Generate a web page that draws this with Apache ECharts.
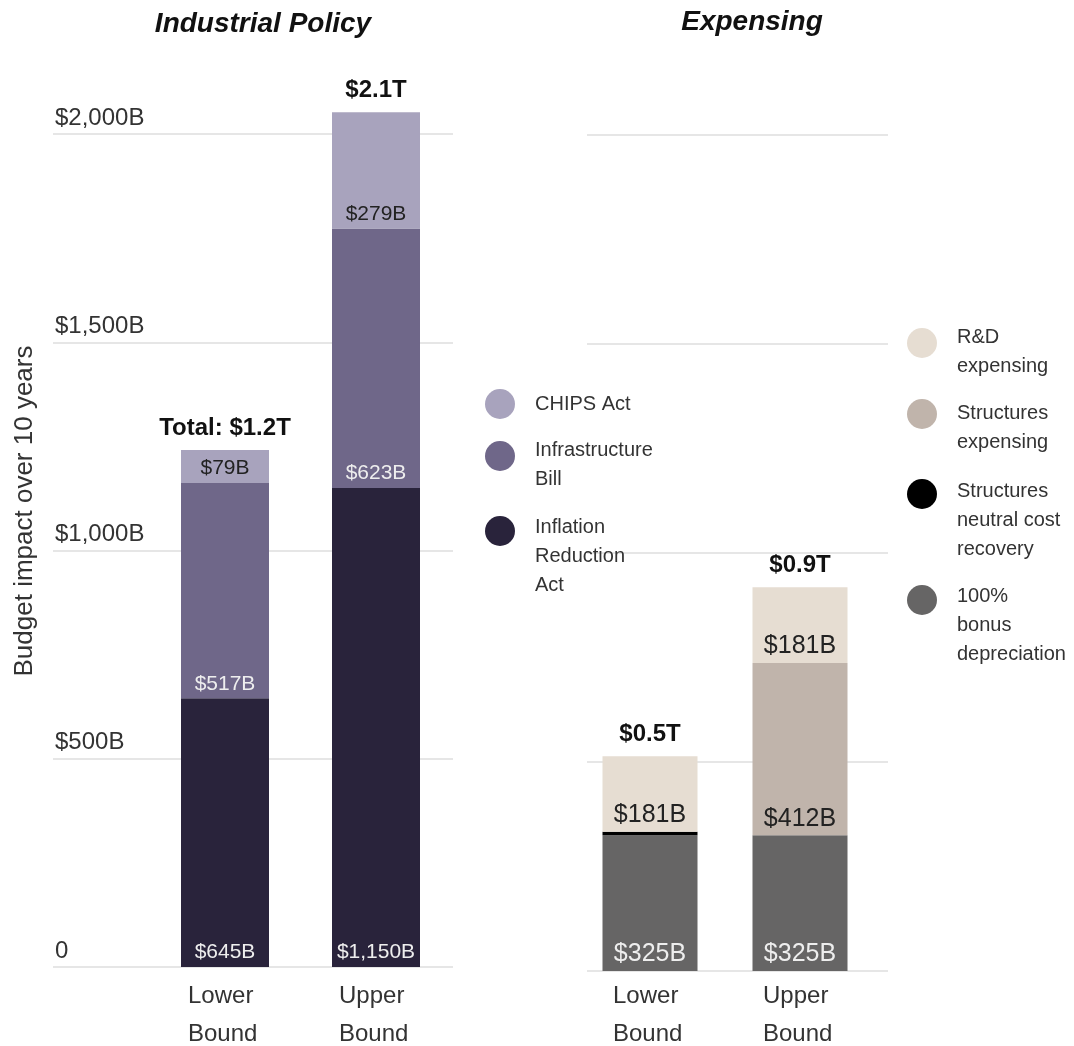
<!DOCTYPE html>
<html>
<head>
<meta charset="utf-8">
<script src="https://cdn.jsdelivr.net/npm/echarts@6/dist/echarts.min.js"></script>
<style>
html,body{margin:0;padding:0;background:#fff;}
#chart{width:1074px;height:1046px;}
</style>
</head>
<body>
<div id="chart"></div>
<script>
// ---- data ----
const categories = ['Lower\nBound', 'Upper\nBound'];
const yTicks = [0, 500, 1000, 1500, 2000];
const yTickLabels = ['0', '$500B', '$1,000B', '$1,500B', '$2,000B'];

// Industrial Policy (billions)
const ira = [645, 1150];
const infra = [517, 623];
const chips = [79, 279];

// Expensing (billions)
const bonusDep = [325, 325];
const neutralCost = [8, null];
const structures = [null, 412];
const rdExp = [181, 181];

const FONT = '"Liberation Sans", Arial, sans-serif';

function fmtB(v) {
  return '$' + Number(v).toLocaleString('en-US') + 'B';
}
function sumArr(arrs, i) {
  return arrs.reduce((s, a) => s + (a[i] || 0), 0);
}
const leftTotals = categories.map((c, i) => sumArr([ira, infra, chips], i));
const rightTotals = categories.map((c, i) => sumArr([bonusDep, neutralCost, structures, rdExp], i));

const chart = echarts.init(document.getElementById('chart'), null, {renderer: 'canvas'});

function segLabel(color, size) {
  return {
    show: true, position: 'insideBottom', distance: 4,
    color: color, fontSize: size, fontFamily: FONT,
    formatter: p => fmtB(p.value)
  };
}
function legendItem(name, text, left, top, blank) {
  return {
    data: [name], left: left, top: top, orient: 'vertical', padding: 0,
    icon: 'circle', itemWidth: 60, itemHeight: 30, selectedMode: false,
    formatter: () => (blank ? '{s| }\n' : '') + text,
    textStyle: {fontSize: 20, lineHeight: 29, color: '#333', fontFamily: FONT,
      rich: {s: {fontSize: 2, lineHeight: blank || 29}}}
  };
}
function catLabel(margin) {
  return {
    margin: margin, color: '#333', fontFamily: FONT, fontSize: 24, lineHeight: 38,
    formatter: v => v.split('\n').map(s => '{a|' + s + '}').join('\n'),
    rich: {a: {width: 74, align: 'left', fontSize: 24, lineHeight: 38, color: '#333', fontFamily: FONT}}
  };
}

const option = {
  animation: false,
  grid: [
    {left: 53, right: 621, top: 134, bottom: 79, outerBoundsMode: 'none'},
    {left: 149.5, right: 622.5, top: 50.7, bottom: 79, outerBoundsMode: 'none'},
    {left: 587, right: 186, top: 135, bottom: 75, outerBoundsMode: 'none'},
    {left: 575, right: 199, top: 51.4, bottom: 75, outerBoundsMode: 'none'}
  ],
  xAxis: [
    {gridIndex: 0, type: 'value', show: false, min: 0, max: 1},
    {gridIndex: 1, type: 'category', data: categories,
      axisLine: {show: false}, axisTick: {show: false}, axisLabel: catLabel(10)},
    {gridIndex: 2, type: 'value', show: false, min: 0, max: 1},
    {gridIndex: 3, type: 'category', data: categories,
      axisLine: {show: false}, axisTick: {show: false}, axisLabel: catLabel(6)}
  ],
  yAxis: [
    {gridIndex: 0, type: 'value', min: 0, max: 2000, interval: 500,
      axisLine: {show: false}, axisTick: {show: false},
      splitLine: {show: true, lineStyle: {color: '#e6e6e6', width: 2}},
      axisLabel: {inside: true, margin: 2, verticalAlign: 'bottom', padding: [0, 0, 4, 0],
        fontSize: 24, color: '#333', fontFamily: FONT,
        formatter: v => yTickLabels[yTicks.indexOf(v)]}},
    {gridIndex: 1, type: 'value', min: 0, max: 2200, show: false, splitLine: {show: false}},
    {gridIndex: 2, type: 'value', min: 0, max: 2000, interval: 500,
      axisLine: {show: false}, axisTick: {show: false}, axisLabel: {show: false},
      splitLine: {show: true, lineStyle: {color: '#e6e6e6', width: 2}}},
    {gridIndex: 3, type: 'value', min: 0, max: 2200, show: false, splitLine: {show: false}}
  ],
  legend: [
    legendItem('CHIPS Act', 'CHIPS Act', 485, 389, 0),
    legendItem('Infrastructure Bill', 'Infrastructure\nBill', 485, 418, 18),
    legendItem('Inflation Reduction Act', 'Inflation\nReduction\nAct', 485, 462.5, 50),
    legendItem('R&D expensing', 'R&D\nexpensing', 907, 305, 18),
    legendItem('Structures expensing', 'Structures\nexpensing', 907, 371, 28),
    legendItem('Structures neutral cost recovery', 'Structures\nneutral cost\nrecovery', 907, 424.5, 52),
    legendItem('100% bonus depreciation', '100%\nbonus\ndepreciation', 907, 531.5, 50)
  ],
  title: [
    {text: 'Industrial Policy', left: 258, top: 5, textAlign: 'center',
      textStyle: {fontSize: 28, fontWeight: 'bold', fontStyle: 'italic', color: '#111', fontFamily: FONT}},
    {text: 'Expensing', left: 747, top: 3, textAlign: 'center',
      textStyle: {fontSize: 28, fontWeight: 'bold', fontStyle: 'italic', color: '#111', fontFamily: FONT}}
  ],
  graphic: [
    {type: 'text', x: 25, y: 511, rotation: Math.PI / 2, silent: true,
      style: {text: 'Budget impact over 10 years', fontSize: 26, fill: '#333', fontFamily: FONT,
        textAlign: 'center', textVerticalAlign: 'middle'}}
  ],
  series: [
    {name: 'Inflation Reduction Act', type: 'bar', xAxisIndex: 1, yAxisIndex: 1, stack: 'ip',
      barWidth: 88, barGap: '-100%', data: ira, itemStyle: {color: '#29233b'},
      label: segLabel('#eeeeee', 21)},
    {name: 'Infrastructure Bill', type: 'bar', xAxisIndex: 1, yAxisIndex: 1, stack: 'ip',
      barWidth: 88, barGap: '-100%', data: infra, itemStyle: {color: '#6f6789'},
      label: segLabel('#eeeeee', 21)},
    {name: 'CHIPS Act', type: 'bar', xAxisIndex: 1, yAxisIndex: 1, stack: 'ip',
      barWidth: 88, barGap: '-100%', data: chips, itemStyle: {color: '#a8a3bd'},
      label: segLabel('#222222', 21)},
    {name: 'ipTotal', type: 'bar', xAxisIndex: 1, yAxisIndex: 1, z: 1,
      barWidth: 88, barGap: '-100%', data: leftTotals, itemStyle: {color: 'rgba(0,0,0,0)'},
      label: {show: true, position: 'top', distance: 10, fontSize: 24, fontWeight: 'bold', color: '#111', fontFamily: FONT,
        formatter: p => (p.dataIndex === 0 ? 'Total: ' : '') + '$' + (p.value / 1000).toFixed(1) + 'T'}},

    {name: '100% bonus depreciation', type: 'bar', xAxisIndex: 3, yAxisIndex: 3, stack: 'ex',
      barWidth: 95, barGap: '-100%', data: bonusDep, itemStyle: {color: '#666565'},
      label: segLabel('#eeeeee', 25)},
    {name: 'Structures neutral cost recovery', type: 'bar', xAxisIndex: 3, yAxisIndex: 3, stack: 'ex',
      barWidth: 95, barGap: '-100%', data: neutralCost, itemStyle: {color: '#000000'},
      label: {show: false}},
    {name: 'Structures expensing', type: 'bar', xAxisIndex: 3, yAxisIndex: 3, stack: 'ex',
      barWidth: 95, barGap: '-100%', data: structures, itemStyle: {color: '#c0b4ab'},
      label: segLabel('#222222', 25)},
    {name: 'R&D expensing', type: 'bar', xAxisIndex: 3, yAxisIndex: 3, stack: 'ex',
      barWidth: 95, barGap: '-100%', data: rdExp, itemStyle: {color: '#e6ddd2'},
      label: segLabel('#222222', 25)},
    {name: 'exTotal', type: 'bar', xAxisIndex: 3, yAxisIndex: 3, z: 1,
      barWidth: 95, barGap: '-100%', data: rightTotals, itemStyle: {color: 'rgba(0,0,0,0)'},
      label: {show: true, position: 'top', distance: 10, fontSize: 24, fontWeight: 'bold', color: '#111', fontFamily: FONT,
        formatter: p => '$' + (p.value / 1000).toFixed(1) + 'T'}}
  ]
};
chart.setOption(option);
</script>
</body>
</html>
